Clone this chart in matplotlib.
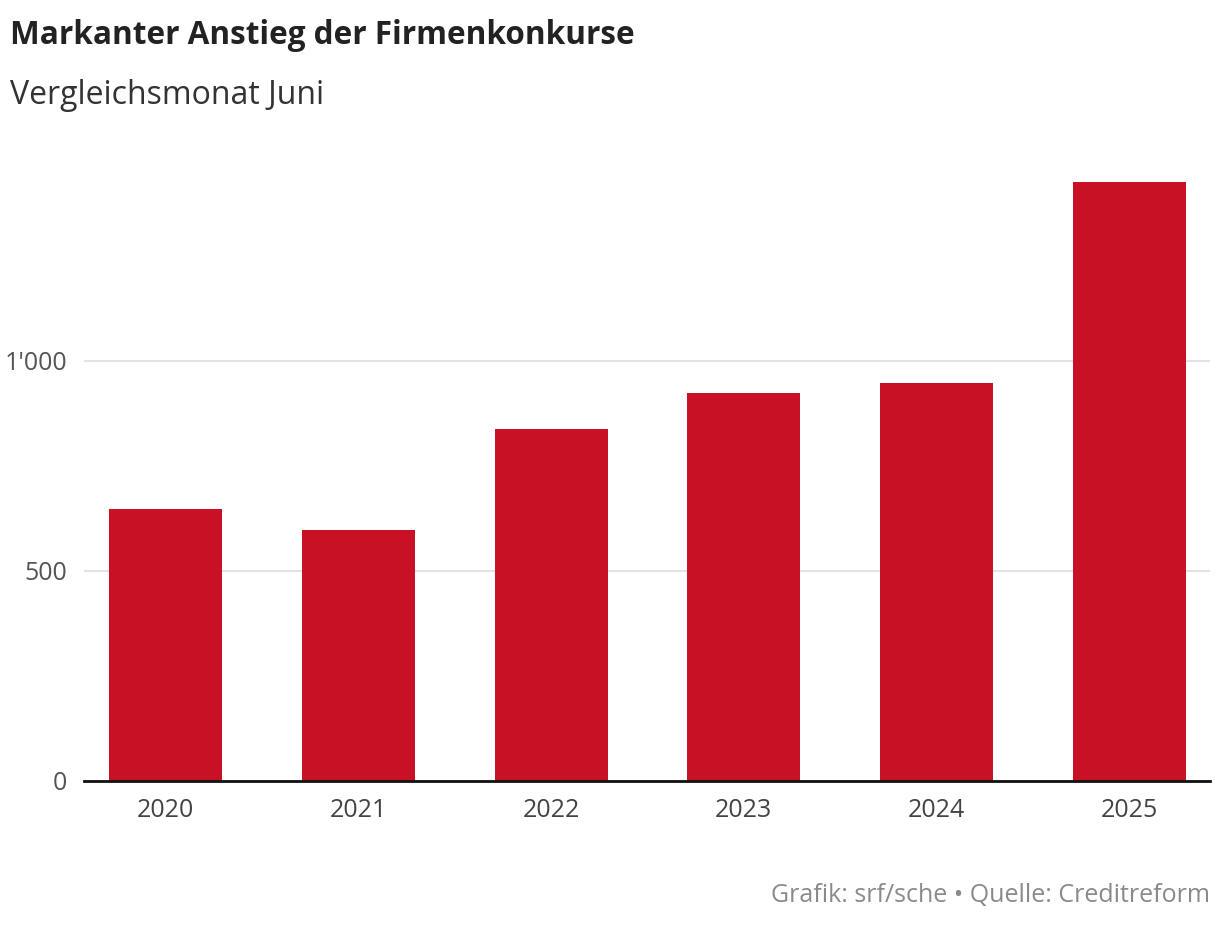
import matplotlib
matplotlib.use("Agg")
import matplotlib.pyplot as plt
from matplotlib.ticker import FuncFormatter

years = ["2020", "2021", "2022", "2023", "2024", "2025"]
konkurse = [648, 598, 838, 924, 948, 1426]
yticks = [0, 500, 1000]

plt.rcParams['font.family'] = ['Open Sans', 'DejaVu Sans']

fig = plt.figure(figsize=(12.2, 9.26), dpi=100)
ax = fig.add_axes([84/1220, (926-781)/926, (1210-84)/1220, 630/926])

x = range(len(years))
ax.bar(x, konkurse, width=0.586, color="#C91126", zorder=3)
ax.set_xlim(-0.423, 5.418)
ax.set_ylim(0, 1500)
ax.set_yticks(yticks)
ax.yaxis.set_major_formatter(FuncFormatter(lambda v, p: f"{int(v):,}".replace(",", "'")))
ax.set_xticks(list(x))
ax.set_xticklabels(years)
ax.grid(axis='y', color="#e3e3e3", lw=1.5, zorder=0)
for s in ['top', 'right', 'left']:
    ax.spines[s].set_visible(False)
ax.spines['bottom'].set_color("#111111")
ax.spines['bottom'].set_linewidth(2)
ax.spines['bottom'].set_zorder(4)
ax.tick_params(axis='y', length=0, pad=12, labelsize=18, labelcolor="#555555")
ax.tick_params(axis='x', length=0, pad=12, labelsize=18, labelcolor="#444444")

fig.text(10/1220, 1 - 36/926, "Markanter Anstieg der Firmenkonkurse", fontsize=22.7,
         fontweight='bold', color="#222222", ha='left', va='center')
fig.text(10/1220, 1 - 95/926, "Vergleichsmonat Juni", fontsize=23, color="#333333",
         ha='left', va='center')
fig.text(1210/1220, 1 - 895/926, "Grafik: srf/sche \u2022 Quelle: Creditreform", fontsize=18,
         color="#8a8a8a", ha='right', va='center')

fig.savefig("out.png", dpi=100)
